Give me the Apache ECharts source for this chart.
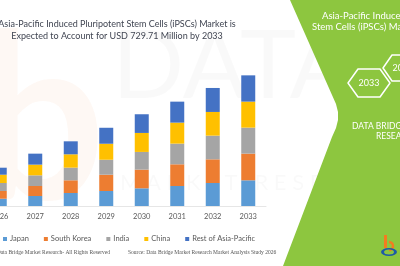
<!DOCTYPE html>
<html>
<head>
<meta charset="utf-8">
<script src="https://cdn.jsdelivr.net/npm/echarts@6/dist/echarts.min.js"></script>
<style>
  html, body { margin: 0; padding: 0; background: #fff; }
  #chart { width: 400px; height: 266px; }
</style>
</head>
<body>
<div id="chart"></div>
<script>
// market values, USD million
var years = ['2026', '2027', '2028', '2029', '2030', '2031', '2032', '2033'];
var japan = [40.8, 55.8, 72.6, 83.7, 98.8, 111.7, 128.4, 143.5];
var southKorea = [43.0, 55.8, 70.9, 91.0, 104.4, 121.2, 132.3, 149.1];
var india = [44.7, 59.7, 70.9, 83.7, 98.8, 115.6, 132.3, 145.2];
var china = [46.3, 59.7, 74.3, 89.3, 106.1, 117.2, 132.3, 145.2];
var restOfAPAC = [39.1, 61.4, 72.6, 89.3, 104.4, 117.2, 134.0, 146.8];

var seriesNames = ['Japan', 'South Korea', 'India', 'China', 'Rest of Asia-Pacific'];
var seriesData = [japan, southKorea, india, china, restOfAPAC];
var colors = ['#5B9BD5', '#ED7D31', '#A5A5A5', '#FFC000', '#4472C4'];

var green = '#8DC63F';

var chart = echarts.init(document.getElementById('chart'), null, { renderer: 'canvas' });

var series = seriesNames.map(function (name, i) {
    return {
        name: name,
        type: 'bar',
        stack: 'total',
        barWidth: 14,
        data: seriesData[i],
        itemStyle: { color: colors[i] },
        z: 3
    };
});

var option = {
    backgroundColor: '#fff',
    animation: false,
    color: colors,
    title: {
        text: 'Asia-Pacific Induced Pluripotent Stem Cells (iPSCs) Market is\nExpected to Account for USD 729.71 Million by 2033',
        left: 112,
        top: 13,
        textAlign: 'center',
        textStyle: {
            fontFamily: 'Lato',
            fontSize: 9,
            fontWeight: 'normal',
            color: '#404552',
            lineHeight: 12
        }
    },
    legend: {
        data: seriesNames,
        left: -2,
        top: 230,
        itemWidth: 4,
        itemHeight: 4,
        itemGap: 15,
        icon: 'rect',
        textStyle: { fontFamily: 'Lato', fontSize: 7.5, color: '#595959', padding: [0, 0, 0, -2] }
    },
    // first category is half cut at the left edge, like the original
    grid: { left: -18, top: 66, width: 284, height: 140, containLabel: false, outerBoundsMode: 'none' },
    xAxis: {
        type: 'category',
        data: years,
        axisTick: { show: false },
        axisLine: { show: true, lineStyle: { color: '#e6e6e6' } },
        axisLabel: { fontFamily: 'Lato', fontSize: 7.5, color: '#595959', margin: 7, interval: 0 }
    },
    yAxis: {
        type: 'value',
        min: 0,
        max: 782,
        show: false,
        splitLine: { show: false }
    },
    series: series,
    graphic: [
        // watermark
        {
            type: 'text', x: -25, y: 10, z: 0, silent: true,
            style: { text: 'b', font: 'bold 230px Lato', fill: 'rgba(237,125,49,0.05)', verticalAlign: 'top' }
        },
        {
            type: 'text', x: 112, y: 20, z: 0, silent: true,
            style: { text: 'DATA BRIDGE', font: '95px Lato', fill: 'rgba(0,0,0,0.025)', verticalAlign: 'top' }
        },
        {
            type: 'text', x: 120, y: 172, z: 0, silent: true,
            style: { text: 'M A R K E T   R E S E A R C H', font: '22px Lato', fill: 'rgba(0,0,0,0.025)', verticalAlign: 'top' }
        },
        // green panel
        {
            type: 'polygon', z: 5, silent: true,
            shape: { points: [[290, 0], [332, 95], [336, 104], [338, 112], [338, 120], [336, 128], [332, 137], [283, 266], [400, 266], [400, 0]] },
            style: { fill: green }
        },
        {
            type: 'text', x: 322, y: 11, z: 6,
            style: { text: 'Asia-Pacific Induced Pluripotent', font: '9.5px Lato', fill: '#fff', verticalAlign: 'top' }
        },
        {
            type: 'text', x: 312, y: 22, z: 6,
            style: { text: 'Stem Cells (iPSCs) Market', font: '9.5px Lato', fill: '#fff', verticalAlign: 'top' }
        },
        {
            type: 'polygon', z: 6,
            shape: { points: [[348, 83], [358, 69], [380, 69], [390, 83], [380, 97], [358, 97]] },
            style: { fill: 'none', stroke: '#fff', lineWidth: 1.5, lineJoin: 'round' }
        },
        {
            type: 'text', x: 369, y: 83, z: 6,
            style: { text: '2033', font: '9px Lato', fill: '#fff', align: 'center', verticalAlign: 'middle' }
        },
        {
            type: 'polygon', z: 6,
            shape: { points: [[383, 68], [392, 55], [414, 55], [423, 68], [414, 81], [392, 81]] },
            style: { fill: 'none', stroke: '#fff', lineWidth: 1.5, lineJoin: 'round' }
        },
        {
            type: 'text', x: 403, y: 68, z: 6,
            style: { text: '2026', font: '9px Lato', fill: '#fff', align: 'center', verticalAlign: 'middle' }
        },
        {
            type: 'text', x: 352, y: 122, z: 6,
            style: { text: 'DATA BRIDGE MARKET', font: '8.5px Lato', fill: '#fff', verticalAlign: 'top' }
        },
        {
            type: 'text', x: 376, y: 132, z: 6,
            style: { text: 'RESEARCH', font: '8.5px Lato', fill: '#fff', verticalAlign: 'top' }
        },
        // logo
        {
            type: 'rect', z: 6,
            shape: { x: 384, y: 235, width: 3, height: 13 },
            style: { fill: '#F47B20' }
        },
        {
            type: 'arc', z: 6,
            shape: { cx: 389, cy: 246, r: 4, startAngle: -Math.PI / 2, endAngle: Math.PI / 2 },
            style: { fill: 'none', stroke: '#F47B20', lineWidth: 2.5 }
        },
        {
            type: 'ring', z: 6,
            x: 389, y: 252, scaleY: 0.5,
            shape: { cx: 0, cy: 0, r: 8, r0: 5 },
            style: { fill: '#1F5AA6' }
        },
        // footer
        {
            type: 'text', x: 110, y: 250, z: 6,
            style: { text: 'Protected \u00A9 Data Bridge Market Research- All Rights Reserved', font: '5.5px "Liberation Serif"', fill: '#555', align: 'right', verticalAlign: 'top' }
        },
        {
            type: 'text', x: 128, y: 250, z: 6,
            style: { text: 'Source: Data Bridge Market Research Market Analysis Study 2026', font: '5.5px "Liberation Serif"', fill: '#555', verticalAlign: 'top' }
        }
    ]
};

chart.setOption(option);
</script>
</body>
</html>
